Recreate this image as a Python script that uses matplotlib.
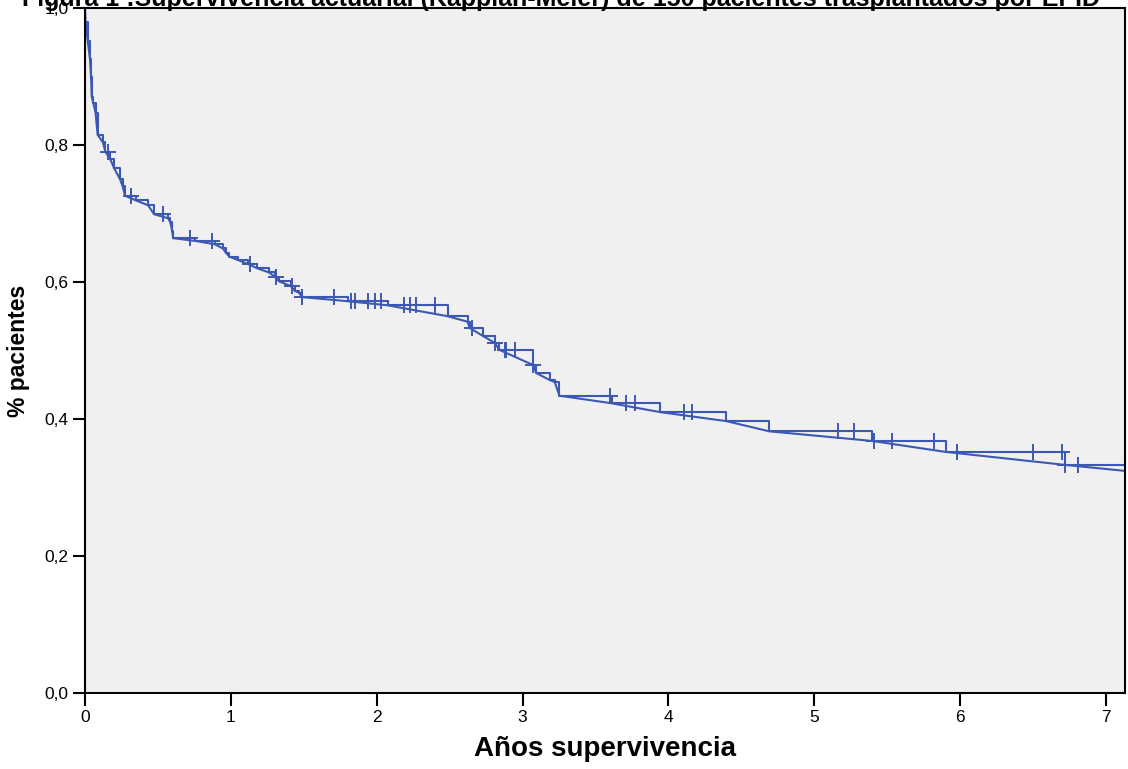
import numpy as np
import matplotlib.pyplot as plt

plt.rcParams['font.family'] = ['Liberation Sans', 'DejaVu Sans']

# event times (years) and survival after each event
event_t = [0.003, 0.018, 0.034, 0.041, 0.046, 0.057, 0.072, 0.086, 0.122, 0.14,
           0.171, 0.20, 0.24, 0.257, 0.274, 0.35, 0.432, 0.473, 0.57, 0.585,
           0.597, 0.604, 0.755, 0.89, 0.945, 0.965, 0.99, 1.05, 1.12, 1.18,
           1.26, 1.30, 1.33, 1.41, 1.44, 1.47, 1.485, 1.80, 2.075, 2.487,
           2.623, 2.637, 2.73, 2.81, 2.84, 3.07, 3.095, 3.185, 3.22, 3.253,
           3.61, 3.945, 4.395, 4.692, 5.395, 5.90, 6.72, 7.8]
event_s = [0.980, 0.952, 0.925, 0.900, 0.870, 0.861, 0.847, 0.815, 0.804, 0.790,
           0.780, 0.766, 0.750, 0.740, 0.726, 0.719, 0.712, 0.699, 0.693, 0.687,
           0.675, 0.664, 0.660, 0.655, 0.649, 0.643, 0.637, 0.632, 0.626, 0.620,
           0.614, 0.608, 0.601, 0.594, 0.587, 0.584, 0.578, 0.572, 0.566, 0.550,
           0.542, 0.533, 0.521, 0.511, 0.501, 0.479, 0.467, 0.457, 0.454, 0.434,
           0.423, 0.410, 0.397, 0.382, 0.368, 0.352, 0.333, 0.310]

# censored times
censor_t = [0.16, 0.318, 0.535, 0.72, 0.868, 1.13, 1.306, 1.416, 1.49, 1.705,
            1.826, 1.849, 1.938, 1.986, 2.032, 2.19, 2.226, 2.27, 2.40, 2.655,
            2.81, 2.877, 2.888, 2.945, 3.07, 3.60, 3.71, 3.77, 4.11, 4.16,
            5.16, 5.27, 5.41, 5.53, 5.82, 5.98, 6.50, 6.70, 6.72, 6.81]

blue = '#3d58b2'

t_all = np.array([0.0] + event_t)
s_all = np.array([1.0] + event_s)

fig = plt.figure(figsize=(11.28, 7.69), dpi=100)
ax = fig.add_axes([0.0754, 0.0988, 0.9219, 0.8908])
ax.set_facecolor('#f0f0f0')

# Kaplan-Meier step curve
ax.plot(t_all, s_all, drawstyle='steps-post', color=blue, lw=1.5)
# line joining the event points
ax.plot(t_all, s_all, color=blue, lw=1.5)

# censor marks on the step curve
idx = np.searchsorted(t_all, censor_t, side='right') - 1
ax.plot(censor_t, s_all[idx], ls='none', marker='+', ms=12, mew=1.4, color=blue)

ax.set_xlim(0, 7.13)
ax.set_ylim(0, 1.0)
ax.set_xticks(range(8))
ax.set_yticks([0, 0.2, 0.4, 0.6, 0.8, 1.0])
ax.set_yticklabels(['0,0', '0,2', '0,4', '0,6', '0,8', '1,0'])
ax.tick_params(labelsize=12.5, length=9, width=1.5, pad=3, direction='out', colors='black')
for sp in ax.spines.values():
    sp.set_linewidth(1.5)
    sp.set_color('black')

ax.set_xlabel('Años supervivencia', fontsize=20, fontweight='bold', labelpad=8)
ax.set_ylabel('% pacientes', fontsize=16.5, fontweight='bold', labelpad=10)

fig.text(0.497, 1 - 6 / 769,
         'Figura 1 :Supervivencia actuarial (Kapplan-Meier) de 150 pacientes trasplantados por EPID',
         ha='center', va='baseline', fontsize=18, fontweight='bold')

fig.savefig('out.png', dpi=100)
